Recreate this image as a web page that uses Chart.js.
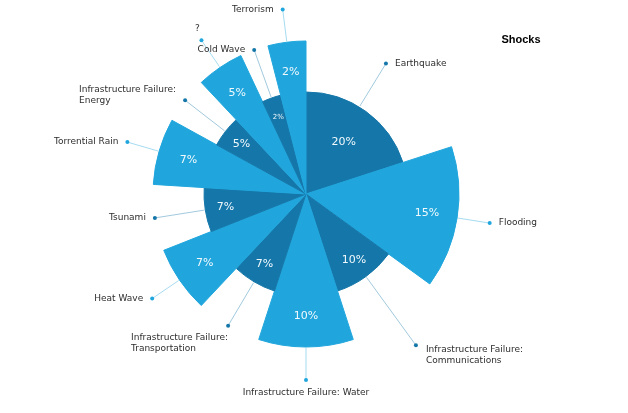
<!DOCTYPE html>
<html>
<head>
<meta charset="utf-8">
<script src="https://cdn.jsdelivr.net/npm/chart.js@4"></script>
<style>
  html, body { margin: 0; padding: 0; background: #fff; }
</style>
</head>
<body>
<canvas id="shocks" width="628" height="413"></canvas>
<script>
var categories = [
  'Earthquake', 'Flooding', 'Infrastructure Failure: Communications',
  'Infrastructure Failure: Water', 'Infrastructure Failure: Transportation',
  'Heat Wave', 'Tsunami', 'Torrential Rain', 'Infrastructure Failure: Energy',
  '?', 'Cold Wave', 'Terrorism'
];
// share of the circle each slice takes
var shares = [20, 15, 10, 10, 7, 7, 7, 7, 5, 5, 3, 4];
// percentages printed inside the slices
var percentLabels = [20, 15, 10, 10, 7, 7, 7, 7, 5, 5, 2, 2];
// slice depth (radius)
var depth = [2, 3, 2, 3, 2, 3, 2, 3, 2, 3, 2, 3];
var titleText = 'Shocks';

(function() {
  'use strict';

  var colors = {
    dark: '#1577a9',
    light: '#20a6dd',
    text: '#2e2e2e',
    inner: '#f2f9fd'
  };
  var labelFont = '9px "DejaVu Sans", Verdana, sans-serif';
  // a few labels were nudged by the original layout to avoid crowding
  var labelTweaks = {
    0: { turn: -4.5, inner: 0.63 },
    2: { push: 34 },
    9: { above: true }
  };

  function sliceColor(i) {
    return depth[i] === 3 ? colors.light : colors.dark;
  }

  function splitLabel(ctx, text, centered) {
    if (centered || ctx.measureText(text).width < 100) return [text];
    var k = text.indexOf(': ');
    if (k < 0) return [text];
    return [text.slice(0, k + 1), text.slice(k + 2)];
  }

  var sliceLabels = {
    id: 'sliceLabels',
    afterDatasetsDraw: function(chart) {
      var ctx = chart.ctx;
      var meta = chart.getDatasetMeta(0);
      var maxR = chart.scales.r.drawingArea;
      ctx.save();
      meta.data.forEach(function(arc, i) {
        var p = arc.getProps(['x', 'y', 'startAngle', 'endAngle', 'outerRadius'], true);
        var mid = (p.startAngle + p.endAngle) / 2;
        var cx = Math.cos(mid), cy = Math.sin(mid);
        var col = sliceColor(i);
        var tweak = labelTweaks[i] || {};

        // value inside the slice
        var txt = percentLabels[i] + '%';
        var lr = p.outerRadius * (tweak.inner || 0.8);
        ctx.font = '11px "DejaVu Sans", Verdana, sans-serif';
        var room = (p.endAngle - p.startAngle) * lr;
        if (ctx.measureText(txt).width > room) {
          ctx.font = '7px "DejaVu Sans", Verdana, sans-serif';
        }
        ctx.fillStyle = colors.inner;
        ctx.textAlign = 'center';
        ctx.textBaseline = 'middle';
        ctx.fillText(txt, p.x + cx * lr, p.y + cy * lr);

        // connector and dot
        var a = mid + (tweak.turn || 0) * Math.PI / 180;
        var ax = Math.cos(a), ay = Math.sin(a);
        var dr = Math.max(p.outerRadius + 33, maxR) + (tweak.push || 0);
        var dx = p.x + ax * dr, dy = p.y + ay * dr;
        ctx.strokeStyle = col;
        ctx.globalAlpha = 0.4;
        ctx.lineWidth = 1;
        ctx.beginPath();
        ctx.moveTo(p.x + ax * (p.outerRadius + 1), p.y + ay * (p.outerRadius + 1));
        ctx.lineTo(dx, dy);
        ctx.stroke();
        ctx.globalAlpha = 1;
        ctx.fillStyle = col;
        ctx.beginPath();
        ctx.arc(dx, dy, 2, 0, Math.PI * 2);
        ctx.fill();

        // category name
        ctx.font = labelFont;
        ctx.fillStyle = colors.text;
        var centered = Math.abs(ax) < 0.15 && ay > 0;
        var lines = splitLabel(ctx, categories[i], centered);
        if (tweak.above) {
          ctx.textAlign = 'center';
          ctx.fillText(lines[0], dx - 4, dy - 12);
          return;
        }
        if (centered) {
          ctx.textAlign = 'center';
          ctx.fillText(lines[0], dx, dy + 13);
          return;
        }
        var right = ax > 0;
        if (lines.length === 1) {
          ctx.textAlign = right ? 'left' : 'right';
          ctx.fillText(lines[0], right ? dx + 9 : dx - 9, dy);
          return;
        }
        var w = Math.max(ctx.measureText(lines[0]).width, ctx.measureText(lines[1]).width);
        var left, top;
        if (ay > 0) {
          left = right ? dx + 10 : dx - w;
          top = right ? dy + 4 : dy + 12;
        } else {
          left = right ? dx + 9 : dx - 9 - w;
          top = dy - 11;
        }
        ctx.textAlign = 'left';
        ctx.fillText(lines[0], left, top);
        ctx.fillText(lines[1], left, top + 11);
      });

      ctx.font = 'bold 11px "Liberation Sans", Arial, sans-serif';
      ctx.fillStyle = '#000';
      ctx.textAlign = 'center';
      ctx.textBaseline = 'middle';
      ctx.fillText(titleText, 521, 40);
      ctx.restore();
    }
  };

  new Chart(document.getElementById('shocks'), {
    type: 'polarArea',
    data: {
      labels: categories,
      datasets: [{
        data: depth,
        angle: function(c) { return shares[c.dataIndex] * 3.6; },
        backgroundColor: categories.map(function(_, i) { return sliceColor(i); }),
        borderColor: categories.map(function(_, i) { return sliceColor(i); }),
        borderWidth: 1
      }]
    },
    options: {
      responsive: false,
      animation: false,
      layout: { padding: { left: 153, right: 169, top: 41, bottom: 66 } },
      scales: {
        r: { display: false, min: 0, max: 3 }
      },
      plugins: {
        legend: { display: false },
        tooltip: { enabled: false }
      }
    },
    plugins: [sliceLabels]
  });
})();
</script>
</body>
</html>
